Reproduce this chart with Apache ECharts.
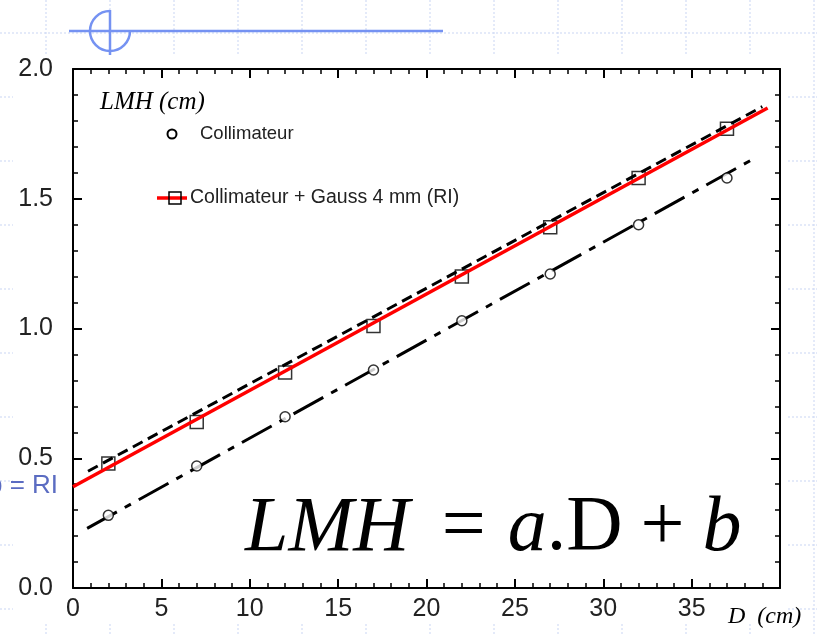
<!DOCTYPE html>
<html>
<head>
<meta charset="utf-8">
<script src="https://cdn.jsdelivr.net/npm/echarts@6/dist/echarts.min.js"></script>
<style>
  html, body { margin: 0; padding: 0; background: #fff; }
  #main { width: 817px; height: 634px; }
</style>
</head>
<body>
<div id="main"></div>
<script>
// data
var distance = [2, 7, 12, 17, 22, 27, 32, 37];
var lmhCollimateur = [0.28, 0.47, 0.66, 0.84, 1.03, 1.21, 1.40, 1.58];
var lmhGauss = [0.48, 0.64, 0.83, 1.01, 1.20, 1.39, 1.58, 1.77];
// fitted lines (end points)
var fitCollimateur = [[0.8, 0.23], [38.4, 1.65]];
var fitGauss = [[0.85, 0.45], [39, 1.855]];
var fitRI = [[0, 0.39], [39.3, 1.85]];
var yTicks = [0, 0.5, 1.0, 1.5, 2.0];

var pairs = function (xs, ys) {
    return xs.map(function (x, i) { return [x, ys[i]]; });
};

var myChart = echarts.init(document.getElementById('main'));

var axisBase = {
    type: 'value',
    axisLine: { show: true, onZero: false, lineStyle: { color: '#000', width: 2 } },
    axisTick: { show: true, inside: true, length: 9, lineStyle: { color: '#000', width: 2 } },
    minorTick: { show: true, splitNumber: 5, length: 5, lineStyle: { color: '#000', width: 1.5 } },
    splitLine: { show: false }
};

// slide background dotted grid, the chart picture covers most of it
var bg = [];
for (var gx = 46; gx < 817; gx += 64) {
    bg.push({ type: 'line', shape: { x1: gx, y1: 0, x2: gx, y2: 634 },
        style: { stroke: '#c9d6f4', lineWidth: 1, lineDash: [2, 2] } });
}
for (var gy = 33; gy < 634; gy += 64) {
    bg.push({ type: 'line', shape: { x1: 0, y1: gy, x2: 817, y2: gy },
        style: { stroke: '#c9d6f4', lineWidth: 1, lineDash: [2, 2] } });
}
bg.push({ type: 'rect', shape: { x: 13, y: 55, width: 775, height: 567 }, style: { fill: '#fff' } });

var deco = [
    { type: 'line', shape: { x1: 69, y1: 31, x2: 443, y2: 31 }, style: { stroke: '#7592f2', lineWidth: 2.5 } },
    { type: 'line', shape: { x1: 110, y1: 10, x2: 110, y2: 55 }, style: { stroke: '#7592f2', lineWidth: 2.5 } },
    { type: 'arc', shape: { cx: 110, cy: 31, r: 20, startAngle: 0, endAngle: Math.PI * 1.5, clockwise: true },
        style: { stroke: '#7592f2', lineWidth: 2.5, fill: null } }
];

var texts = [
    { type: 'text', x: 100, y: 102, style: { text: 'LMH (cm)', font: 'italic 25px "Liberation Serif"', fill: '#000', verticalAlign: 'middle' } },
    { type: 'circle', shape: { cx: 172, cy: 134, r: 4.5 }, style: { fill: '#fff', stroke: '#000', lineWidth: 2 } },
    { type: 'text', x: 200, y: 134, style: { text: 'Collimateur', font: '18.5px "Liberation Sans"', fill: '#222', verticalAlign: 'middle' } },
    { type: 'line', shape: { x1: 157, y1: 198, x2: 187, y2: 198 }, style: { stroke: '#ff0000', lineWidth: 3.5 } },
    { type: 'rect', shape: { x: 169, y: 192, width: 12, height: 12 }, style: { fill: null, stroke: '#000', lineWidth: 1.5 } },
    { type: 'text', x: 190, y: 198, style: { text: 'Collimateur + Gauss 4 mm (RI)', font: '19.5px "Liberation Sans"', fill: '#222', verticalAlign: 'middle' } },
    { type: 'text', x: 728, y: 617, style: { text: 'D  (cm)', font: 'italic 24px "Liberation Serif"', fill: '#000', verticalAlign: 'middle' } },
    { type: 'text', x: -12, y: 486, style: { text: 'b = RI', font: '26px "Liberation Sans"', fill: '#5b6cc2', verticalAlign: 'middle' } },
    {
        type: 'text', x: 245, y: 529,
        style: {
            text: '{i|LMH}{e|=}{i|a}{n|.D}{p|+}{i|b}',
            verticalAlign: 'middle',
            fill: '#000',
            rich: {
                i: { fontFamily: 'Liberation Serif', fontStyle: 'italic', fontSize: 78 },
                n: { fontFamily: 'Liberation Serif', fontSize: 78 },
                e: { fontFamily: 'Liberation Serif', fontSize: 78, padding: [0, 22, 0, 32] },
                p: { fontFamily: 'Liberation Serif', fontSize: 78, padding: [0, 18, 0, 18] }
            }
        }
    }
];

var option = {
    animation: false,
    backgroundColor: '#fff',
    grid: { left: 73, top: 69, width: 707, height: 519 },
    xAxis: [
        Object.assign({}, axisBase, {
            min: 0, max: 40, interval: 5,
            axisLabel: {
                show: true, color: '#222', fontSize: 25, fontFamily: 'Liberation Sans', margin: 9,
                showMaxLabel: false
            }
        }),
        Object.assign({}, axisBase, {
            position: 'top', min: 0, max: 40, interval: 5, axisLabel: { show: false }
        })
    ],
    yAxis: [
        Object.assign({}, axisBase, {
            min: 0, max: 2, interval: 0.5,
            axisLabel: {
                color: '#222', fontSize: 25, fontFamily: 'Liberation Sans', margin: 20,
                formatter: function (v) { return yTicks.indexOf(v) >= 0 ? v.toFixed(1) : ''; }
            }
        }),
        Object.assign({}, axisBase, {
            position: 'right', min: 0, max: 2, interval: 0.5, axisLabel: { show: false }
        })
    ],
    graphic: bg.concat(deco, texts),
    series: [
        {
            name: 'fit Collimateur', type: 'line', data: fitCollimateur, symbol: 'none', z: 2,
            lineStyle: { color: '#000', width: 3, type: [34, 9, 7, 9] }
        },
        {
            name: 'fit Gauss', type: 'line', data: fitGauss, symbol: 'none', z: 2,
            lineStyle: { color: '#000', width: 3, type: [11, 6] }
        },
        {
            name: 'Collimateur', type: 'scatter', data: pairs(distance, lmhCollimateur), z: 3,
            symbol: 'circle', symbolSize: 10,
            itemStyle: { color: '#fff', borderColor: '#000', borderWidth: 1.5 }
        },
        {
            name: 'Collimateur + Gauss 4 mm (RI)', type: 'scatter', data: pairs(distance, lmhGauss), z: 3,
            symbol: 'rect', symbolSize: 13,
            itemStyle: { color: 'rgba(255,255,255,0)', borderColor: '#000', borderWidth: 1.5 }
        },
        {
            name: 'RI', type: 'line', data: fitRI, symbol: 'none', z: 4,
            lineStyle: { color: '#ff0000', width: 3.5 }
        }
    ]
};

myChart.setOption(option);
</script>
</body>
</html>
